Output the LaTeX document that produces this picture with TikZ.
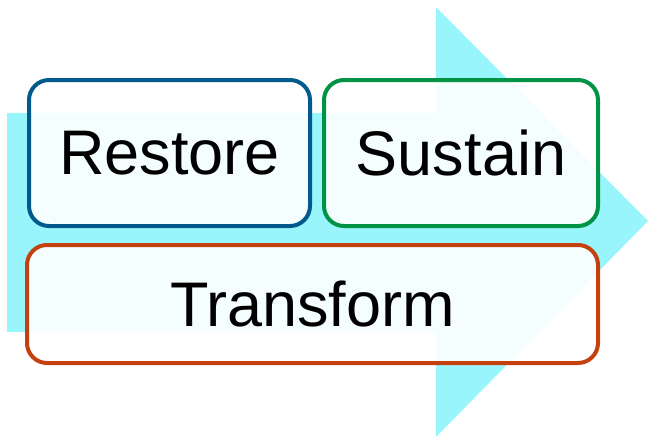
\documentclass[tikz,border=0pt]{standalone}
\usepackage{fontspec}
\setmainfont{Liberation Sans}
\definecolor{arrowcyan}{RGB}{153,245,252}
\definecolor{restoreblue}{RGB}{0,90,140}
\definecolor{sustaingreen}{RGB}{0,146,69}
\definecolor{transformred}{RGB}{196,65,15}
\begin{document}
\begin{tikzpicture}[x=1pt,y=-1pt]
        \tikzset{stage/.style = {shape=rectangle,rounded corners=20pt,line width=4pt,
          fill=white,fill opacity=0.9,text opacity=1,inner sep=0pt,
          font=\fontsize{63}{76}\selectfont}}
        \useasboundingbox (0,0) rectangle (648,437);
        % arrow
        \fill[arrowcyan] (7,113) rectangle (437,332);
        \fill[arrowcyan] (436,7) -- (648,221) -- (436,437) -- cycle;
        % stages
        \node[stage,draw=restoreblue,minimum width=281pt,minimum height=146pt] (restore) at (169.5,153) {Restore};
        \node[stage,draw=sustaingreen,minimum width=274pt,minimum height=146pt] (sustain) at (461,153) {Sustain};
        \node[stage,draw=transformred,minimum width=571pt,minimum height=118pt] (transform) at (312.5,304) {Transform};
\end{tikzpicture}
\end{document}
